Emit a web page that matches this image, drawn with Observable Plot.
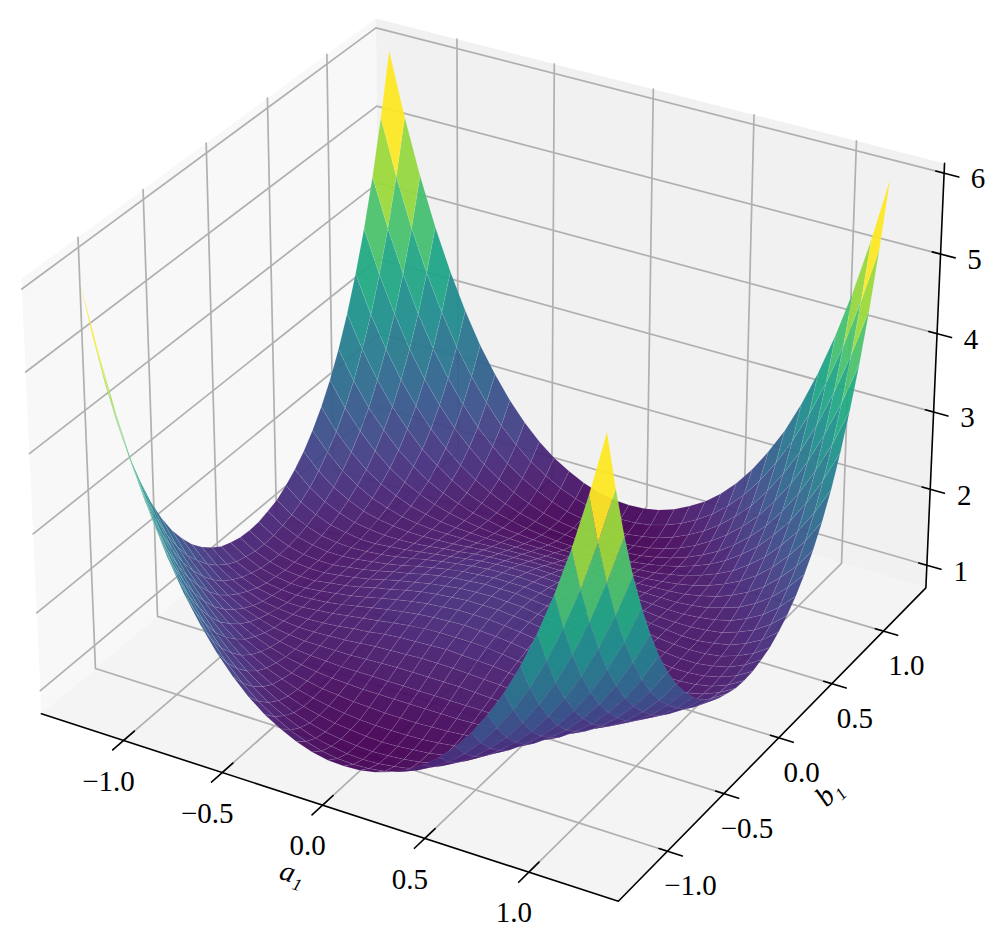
<!DOCTYPE html>
<html><head><meta charset="utf-8">
<style>html,body{margin:0;padding:0;background:#fff}svg{display:block}</style>
<script src="https://cdn.jsdelivr.net/npm/d3@7"></script>
<script src="https://cdn.jsdelivr.net/npm/@observablehq/plot@0.6"></script>
</head><body><script>
const aTicks=[-1,-.5,0,.5,1], bTicks=[-1,-.5,0,.5,1], zTicks=[1,2,3,4,5,6];
const axisLimit=1.423, zLimits=[.70,6.12], surfaceExtent=1.25;
// Height estimates for one quadrant (|a| by row, |b| by column, centre to corner);
// the picture shows the same surface mirrored in both axes.
const zQuadrant=[
[1.40,1.39,1.37,1.34,1.29,1.24,1.17,1.10,1.03,0.97,0.90,0.85,0.81,0.80,0.81,0.86,0.95],
[1.39,1.39,1.37,1.33,1.29,1.23,1.17,1.10,1.03,0.97,0.90,0.85,0.82,0.81,0.82,0.87,0.96],
[1.38,1.37,1.35,1.32,1.28,1.22,1.16,1.10,1.03,0.97,0.91,0.86,0.84,0.83,0.85,0.90,1.00],
[1.35,1.35,1.33,1.30,1.26,1.21,1.15,1.09,1.03,0.97,0.92,0.88,0.86,0.86,0.89,0.96,1.07],
[1.32,1.32,1.30,1.27,1.23,1.19,1.14,1.08,1.03,0.98,0.94,0.91,0.90,0.91,0.96,1.04,1.17],
[1.28,1.28,1.26,1.24,1.20,1.16,1.12,1.07,1.03,0.99,0.96,0.95,0.95,0.98,1.05,1.15,1.29],
[1.24,1.23,1.22,1.20,1.17,1.14,1.10,1.07,1.04,1.01,1.00,1.00,1.02,1.07,1.16,1.28,1.45],
[1.19,1.19,1.17,1.16,1.14,1.11,1.09,1.07,1.05,1.04,1.04,1.07,1.11,1.19,1.30,1.45,1.65],
[1.14,1.14,1.13,1.12,1.11,1.09,1.08,1.07,1.07,1.08,1.11,1.15,1.22,1.33,1.47,1.65,1.89],
[1.10,1.10,1.10,1.09,1.09,1.08,1.08,1.09,1.11,1.14,1.19,1.26,1.36,1.50,1.67,1.90,2.18],
[1.07,1.07,1.07,1.07,1.07,1.08,1.10,1.12,1.16,1.22,1.29,1.40,1.53,1.70,1.92,2.19,2.51],
[1.04,1.04,1.05,1.06,1.07,1.10,1.13,1.18,1.24,1.32,1.43,1.56,1.73,1.95,2.21,2.53,2.91],
[1.04,1.04,1.05,1.07,1.10,1.13,1.18,1.25,1.34,1.45,1.59,1.77,1.98,2.24,2.55,2.93,3.37],
[1.06,1.06,1.08,1.10,1.14,1.20,1.27,1.36,1.47,1.62,1.80,2.01,2.27,2.58,2.95,3.39,3.90],
[1.10,1.11,1.13,1.17,1.22,1.29,1.38,1.50,1.65,1.83,2.04,2.31,2.62,2.99,3.42,3.92,4.51],
[1.18,1.19,1.22,1.26,1.33,1.42,1.54,1.69,1.86,2.08,2.34,2.66,3.02,3.45,3.96,4.54,5.21],
[1.30,1.31,1.35,1.40,1.49,1.60,1.74,1.92,2.13,2.39,2.70,3.07,3.50,3.99,4.57,5.24,6.00]];

const N=zQuadrant.length-1, step=surfaceExtent/N, lim=axisLimit, Z0=zLimits[0], Z1=zLimits[1];
const A=[1.1428,1.1428,.8571];
const U=[.866025,.5,0],V=[-.25,.433013,.866025],W=[.433013,-.75,.5];
const dot=(p,q)=>p[0]*q[0]+p[1]*q[1]+p[2]*q[2];
function proj(a,b,z){
 const q=[a/lim*A[0]/2,b/lim*A[1]/2,((z-Z0)/(Z1-Z0)-.5)*A[2]];
 const d=10-dot(W,q);
 return {x:dot(U,q)/d,y:dot(V,q)/d,d};
}
const S=5785,ox=491,oy=439;
const zz=(i,j)=>zQuadrant[Math.abs(i)][Math.abs(j)];
const cells=[];
for(let i=-N;i<N;i++)for(let j=-N;j<N;j++){
 const cs=[[i,j],[i+1,j],[i+1,j+1],[i,j+1]];
 const ps=cs.map(([p,r])=>proj(p*step,r*step,zz(p,r)));
 cells.push({ps,v:d3.mean(cs,([p,r])=>zz(p,r)),d:d3.mean(ps,p=>p.d)});
}
cells.sort((m,n)=>n.d-m.d);
const rows=[];
cells.forEach((c,id)=>{[...c.ps,c.ps[0]].forEach(p=>rows.push({id,x:p.x,y:p.y,v:c.v}))});
const colorDomain=d3.extent(cells,c=>c.v);
const seg=(arr)=>{const o=[];arr.forEach((pts,id)=>pts.forEach(p=>{const r=proj(...p);o.push({id,x:r.x,y:r.y})}));return o};
const panes=[
 {f:"#f8f8f8",p:[[-lim,-lim,Z0],[-lim,lim,Z0],[-lim,lim,Z1],[-lim,-lim,Z1]]},
 {f:"#f1f1f1",p:[[-lim,lim,Z0],[lim,lim,Z0],[lim,lim,Z1],[-lim,lim,Z1]]},
 {f:"#f4f4f4",p:[[-lim,-lim,Z0],[lim,-lim,Z0],[lim,lim,Z0],[-lim,lim,Z0]]}];
const grid=[];
aTicks.forEach(t=>{grid.push([[t,-lim,Z0],[t,lim,Z0],[t,lim,Z1]])});
bTicks.forEach(t=>{grid.push([[lim,t,Z0],[-lim,t,Z0],[-lim,t,Z1]])});
zTicks.forEach(t=>{grid.push([[-lim,-lim,t],[-lim,lim,t],[lim,lim,t]])});
const axes=[[[-lim,-lim,Z0],[lim,-lim,Z0],[lim,lim,Z0],[lim,lim,Z1]]];
const ticks=[];
aTicks.forEach(t=>ticks.push([[t,-lim-.085,Z0],[t,-lim+.085,Z0]]));
bTicks.forEach(t=>ticks.push([[lim-.04,t,Z0],[lim+.07,t,Z0]]));
zTicks.forEach(t=>ticks.push([[lim-.04,lim,t],[lim+.07,lim,t]]));
const lab=(arr,f,s)=>arr.map(t=>{const r=proj(...f(t));return {x:r.x,y:r.y,t:s?s(t):t.toFixed(1).replace("-","−")}});
const common={x:"x",y:"y",fontSize:29,fontFamily:"Liberation Serif",fill:"black",text:"t",textAnchor:"middle",lineAnchor:"middle"};
const al=proj(0,-lim,Z0),bl=proj(lim,0,Z0);
const fig=Plot.plot({width:1000,height:941,margin:0,
 x:{domain:[-ox/S,(1000-ox)/S],axis:null},y:{domain:[(oy-941)/S,oy/S],axis:null},
 color:{type:"linear",scheme:"viridis",domain:colorDomain},
 marks:[
  ...panes.map(p=>Plot.line(seg([p.p]),{x:"x",y:"y",fill:p.f,stroke:"none"})),
  Plot.line(seg(grid),{x:"x",y:"y",z:"id",stroke:"#b0b0b0",strokeWidth:1.7}),
  Plot.line(seg(axes),{x:"x",y:"y",z:"id",stroke:"black",strokeWidth:1.6}),
  Plot.line(seg(ticks),{x:"x",y:"y",z:"id",stroke:"black",strokeWidth:1.6}),
  Plot.line(rows,{x:"x",y:"y",z:"id",fill:"v",fillOpacity:.95,stroke:"white",strokeOpacity:.1,strokeWidth:.7}),
  Plot.text(lab(aTicks,t=>[t,-lim,Z0]),{...common,dx:-15,dy:41}),
  Plot.text(lab(bTicks,t=>[lim,t,Z0]),{...common,dx:23,dy:35}),
  Plot.text(lab(zTicks,t=>[lim,lim,t],t=>String(t)),{...common,dx:34,dy:6}),
  Plot.text([{x:al.x,y:al.y,t:"a₁"}],{...common,dx:-30,dy:68,rotate:18,fontStyle:"italic"}),
  Plot.text([{x:bl.x,y:bl.y,t:"b₁"}],{...common,dx:50,dy:55,rotate:-45,fontStyle:"italic"})
 ]});
document.body.append(fig);
</script></body></html>
